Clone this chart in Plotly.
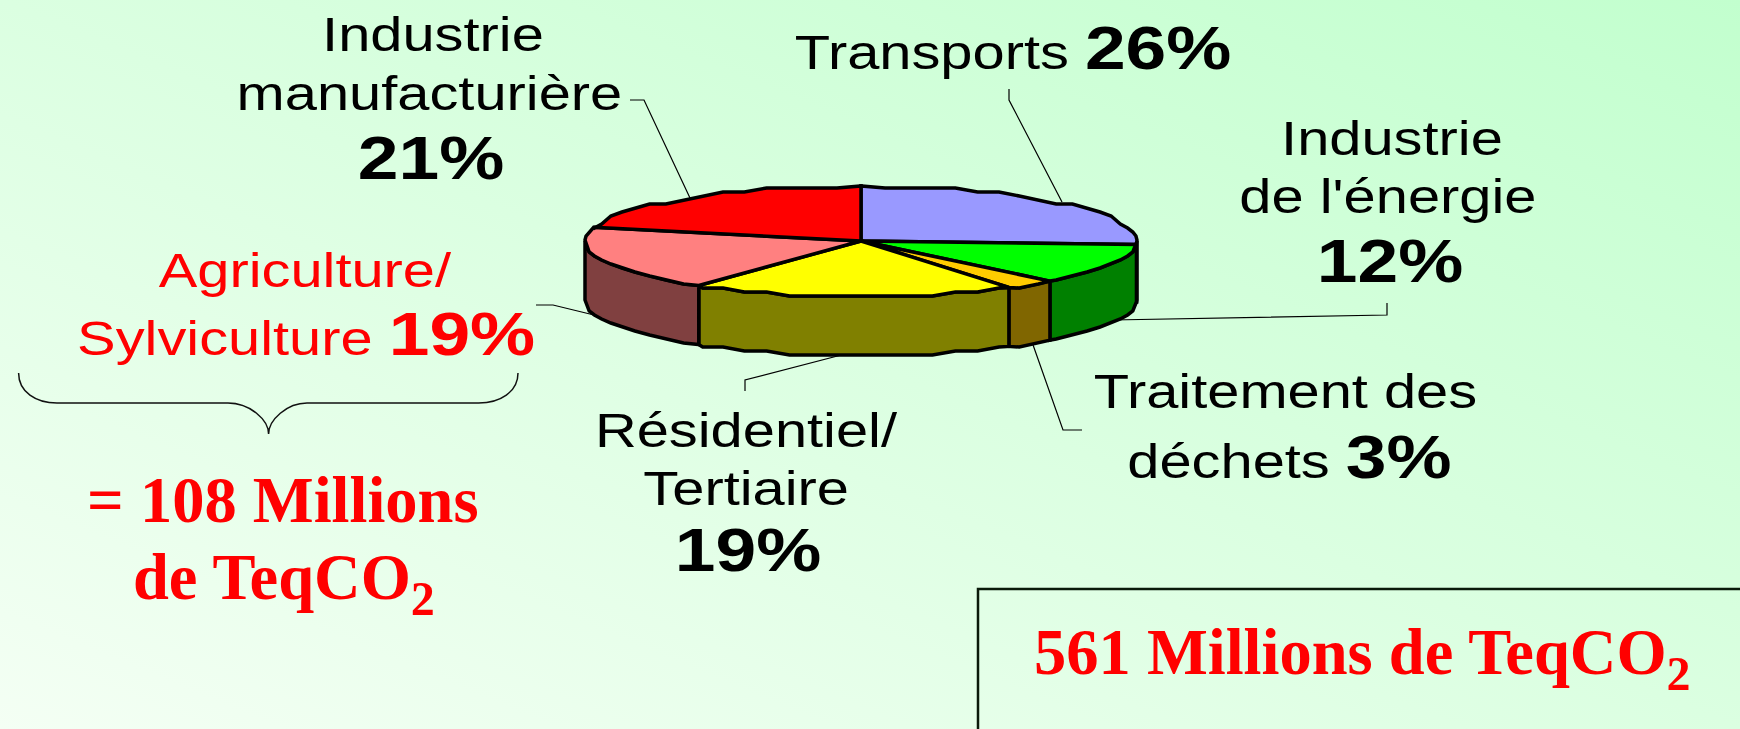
import base64
import numpy as np
import plotly.graph_objects as go

# ---- data ----
sectors = ["Transports", "Industrie de l'énergie", "Traitement des déchets",
           "Résidentiel/Tertiaire", "Agriculture/Sylviculture", "Industrie manufacturière"]
shares = [26, 12, 3, 19, 19, 21]
top_colors = ["#9999FF", "#00FF00", "#FFCC00", "#FFFF00", "#FF8080", "#FF0000"]
side_colors = ["#4D4D80", "#008000", "#806600", "#808000", "#804040", "#800000"]

W, H = 1740, 729
CX, CY, RX, RY, DEPTH = 861, 241, 276, 55, 59
REG, BOLD, SERIF = 49, 62, 64.5
STRETCH = 1.18
SANS = "Liberation Sans, Arial, sans-serif"
TIMES = "Liberation Serif, Times New Roman, serif"


def ring(a0, a1, dy=0.0):
    """Outline of the tilted disc, on one shared angle grid, with the original's stepped edge."""
    grid = np.arange(0, 361, 5.0)
    inner = grid[(grid > a0 + 0.5) & (grid < a1 - 0.5)]
    deg = np.r_[a0, inner, a1]
    ang = np.radians(deg)
    x = CX + RX * np.sin(ang)
    y = CY - RY * np.cos(ang)
    y[1:-1] = np.round(y[1:-1] / 4) * 4
    return x, y + dy


fig = go.Figure()
edges = np.concatenate([[0], np.cumsum(shares)]) * 3.6

# front wall of the disc
for i, s in enumerate(sectors):
    a0, a1 = max(edges[i], 90), min(edges[i + 1], 270)
    if a1 <= a0:
        continue
    xt, yt = ring(a0, a1)
    xb, yb = ring(a0, a1, DEPTH)
    fig.add_trace(go.Scatter(
        x=np.r_[xt, xb[::-1], xt[0]], y=np.r_[yt, yb[::-1], yt[0]], mode="lines",
        fill="toself", fillcolor=side_colors[i],
        line=dict(color="black", width=3.5), name=s, hoverinfo="skip", showlegend=False))

# top face
for i, s in enumerate(sectors):
    xt, yt = ring(edges[i], edges[i + 1])
    fig.add_trace(go.Scatter(
        x=np.r_[CX, xt, CX], y=np.r_[CY, yt, CY], mode="lines",
        fill="toself", fillcolor=top_colors[i],
        line=dict(color="black", width=3.5), name=s, hoverinfo="text",
        text=f"{s} {shares[i]}%", showlegend=False))


def big(text):
    return f'<span style="font-size:{BOLD}px;font-weight:bold">{text}</span>'


SUB2 = '<span style="font-size:80px">₂</span>'

sans_labels = [
    ("Industrie", 433, 34, "black"),
    ("manufacturière", 429, 93, "black"),
    (big("21%"), 431, 157, "black"),
    ("Transports " + big("26%"), 1013, 47, "black"),
    ("Industrie", 1392, 138, "black"),
    ("de l'énergie", 1388, 196, "black"),
    (big("12%"), 1390, 260, "black"),
    ("Agriculture/", 305, 270, "#FF0000"),
    ("Sylviculture " + big("19%"), 306, 333, "#FF0000"),
    ("Résidentiel/", 746, 430, "black"),
    ("Tertiaire", 746, 488, "black"),
    (big("19%"), 748, 549, "black"),
    ("Traitement des", 1285, 391, "black"),
    ("déchets " + big("3%"), 1289, 456, "black"),
]
serif_labels = [
    ("= 108 Millions", 283, 500),
    ("de TeqCO" + SUB2, 284, 572),
    ("561 Millions de TeqCO" + SUB2, 1362, 647),
]
annotations = [
    dict(x=x, y=y, text=t, showarrow=False, xanchor="center", yanchor="middle",
         font=dict(family=SANS, size=REG, color=c))
    for t, x, y, c in sans_labels
] + [
    dict(x=x, y=y, text=f"<b>{t}</b>", showarrow=False, xanchor="center", yanchor="middle",
         font=dict(family=TIMES, size=SERIF, color="#FF0000"))
    for t, x, y in serif_labels
]

leaders = [
    [(1009, 89), (1009, 100), (1062, 202)],
    [(1387, 303), (1387, 315), (1112, 320)],
    [(1032, 342), (1063, 430), (1082, 430)],
    [(849, 353), (745, 380), (745, 391)],
    [(536, 305), (553, 305), (594, 315)],
    [(630, 100), (644, 100), (690, 198)],
]
shapes = [
    dict(type="path", xref="x", yref="y", layer="below",
         path="M" + " L".join(f"{x},{y}" for x, y in pts),
         line=dict(color="black", width=1.2))
    for pts in leaders
]
shapes.append(dict(
    type="path", xref="x", yref="y",
    path="M18.6,373 C18.6,392 36,403 57,403 L228,403 C250,403 268.6,420 268.6,434 "
         "C268.6,420 287,403 307,403 L478.6,403 C500,403 518,392 518,373",
    line=dict(color="#111111", width=1.5)))
shapes.append(dict(type="rect", xref="x", yref="y", x0=978, y0=589, x1=W + 20, y1=H + 20,
                   line=dict(color="#0A1A0A", width=2.5)))

svg = (f'<svg xmlns="http://www.w3.org/2000/svg" width="{W}" height="{H}" '
       f'viewBox="0 0 {W} {H}" preserveAspectRatio="none"><defs>'
       '<linearGradient id="g" x1="0" y1="1" x2="1" y2="0">'
       '<stop offset="0" stop-color="#F4FFF4"/><stop offset="1" stop-color="#C2FFCE"/>'
       f'</linearGradient></defs><rect width="{W}" height="{H}" fill="url(#g)"/></svg>')
bg = "data:image/svg+xml;base64," + base64.b64encode(svg.encode()).decode()

fig.update_layout(
    width=W, height=H, margin=dict(l=0, r=0, t=0, b=0),
    paper_bgcolor="#E0FFE4", plot_bgcolor="rgba(0,0,0,0)", showlegend=False,
    xaxis=dict(range=[0, W], visible=False, fixedrange=True),
    yaxis=dict(range=[H, 0], visible=False, fixedrange=True),
    annotations=annotations, shapes=shapes,
    images=[dict(source=bg, xref="paper", yref="paper", x=0, y=1, sizex=1, sizey=1,
                 sizing="stretch", xanchor="left", yanchor="top", layer="below")],
)

# The reference's Arial labels are stretched sideways; widen those text runs about their centres.
post = """
document.body.style.margin='0';
document.querySelectorAll('.annotation-text').forEach(function(t){
  if ((t.style.fontFamily||'').indexOf('Sans') < 0) return;
  var b = t.getBBox(), c = b.x + b.width/2;
  t.setAttribute('transform','translate('+c+',0) scale(%s,1) translate('+(-c)+',0)');
});
""" % STRETCH

fig.write_html("out.html", config={"displayModeBar": False},
               default_width=f"{W}px", default_height=f"{H}px", post_script=post)
